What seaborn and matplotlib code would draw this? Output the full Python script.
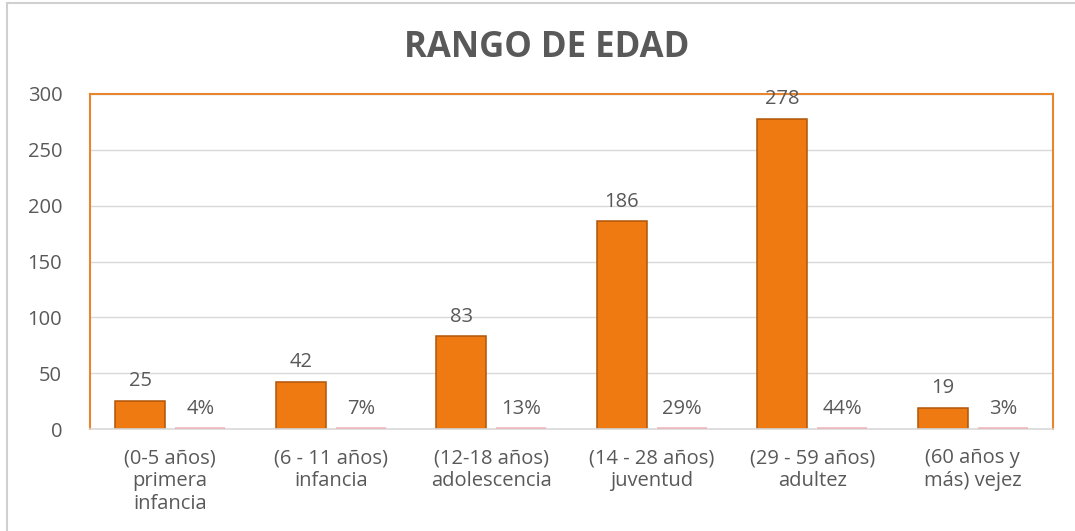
import pandas as pd
import matplotlib.pyplot as plt
import seaborn as sns
from matplotlib.patches import Rectangle

# datos
categorias = ['(0-5 años)\nprimera\ninfancia', '(6 - 11 años)\ninfancia',
              '(12-18 años)\nadolescencia', '(14 - 28 años)\njuventud',
              '(29 - 59 años)\nadultez', '(60 años y\nmás) vejez']
cantidad = [25, 42, 83, 186, 278, 19]
porcentaje = [4, 7, 13, 29, 44, 3]

NARANJA = '#F07A12'
ROSA = '#EDB9BF'
GRIS_TXT = '#595959'

sns.set_style('white')
plt.rcParams['font.family'] = ['Open Sans', 'DejaVu Sans']

df = pd.DataFrame({
    'Rango': categorias * 2,
    'Serie': ['Cantidad'] * 6 + ['Porcentaje'] * 6,
    'Valor': cantidad + [p / 100 for p in porcentaje],
})

fig = plt.figure(figsize=(10.75, 5.31), dpi=100)
ax = fig.add_axes([0.0837, 0.192, 0.8958, 0.631])

sns.barplot(data=df, x='Rango', y='Valor', hue='Serie', ax=ax,
            palette=[NARANJA, ROSA], width=0.748, gap=0.167,
            legend=False, saturation=1)

# bordes de las barras (efecto bisel aproximado)
for bar in ax.patches:
    if bar.get_height() > 1:
        bar.set_edgecolor('#B05508')
        bar.set_linewidth(1.1)
    else:
        bar.set_edgecolor(ROSA)
        bar.set_linewidth(2.6)
        bar.set_zorder(4)

# etiquetas de datos
offs = [-0.187, 0.187]
for i in range(len(categorias)):
    ax.annotate(str(cantidad[i]), (i + offs[0], cantidad[i]),
                xytext=(0, 7), textcoords='offset points',
                ha='center', va='bottom', fontsize=14.5, color=GRIS_TXT)
    ax.annotate(f'{porcentaje[i]}%', (i + offs[1], 0),
                xytext=(0, 7), textcoords='offset points',
                ha='center', va='bottom', fontsize=14.5, color=GRIS_TXT)

ax.set_ylim(0, 300)
ax.set_yticks(range(0, 301, 50))
ax.set_xlim(-0.5, 5.5)
ax.yaxis.grid(True, color='#D9D9D9', linewidth=1)
ax.set_axisbelow(True)
ax.tick_params(axis='both', length=0, labelsize=14.5, labelcolor=GRIS_TXT)
ax.tick_params(axis='y', pad=20)
ax.tick_params(axis='x', pad=14)
for t in ax.get_xticklabels():
    t.set_linespacing(1.2)
ax.set_xlabel('')
ax.set_ylabel('')

for lado in ['left', 'top', 'right']:
    ax.spines[lado].set_color('#E8852F')
    ax.spines[lado].set_linewidth(1.5)
ax.spines['bottom'].set_color('#D9D9D9')
ax.spines['bottom'].set_linewidth(1.2)

fig.text(0.509, 0.91, 'RANGO DE EDAD', ha='center', va='center',
         fontsize=25, fontweight='bold', color=GRIS_TXT)

# borde exterior del área del gráfico
fig.patches.append(Rectangle((0.0065, -0.05), 1.2, 1.044,
                             transform=fig.transFigure, fill=False,
                             edgecolor='#D0D0D0', linewidth=1.5))

fig.savefig('out.png', dpi=100)
